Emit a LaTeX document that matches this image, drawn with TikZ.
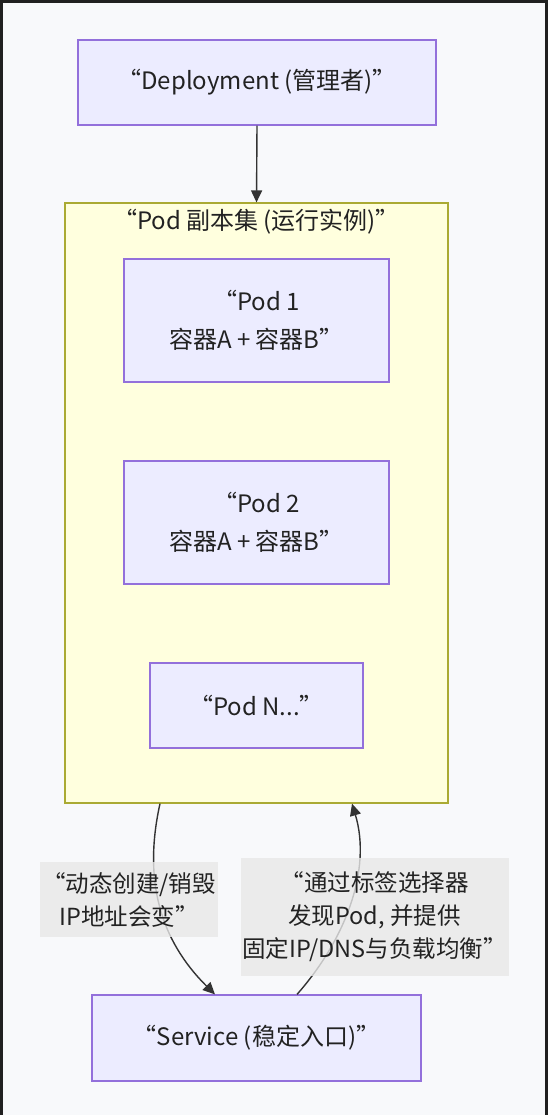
\documentclass[tikz,border=0pt]{standalone}
\usepackage{fontspec}
\setmainfont{Noto Sans CJK SC}
\usepackage{tikz}
\usetikzlibrary{arrows.meta,positioning}

\definecolor{podfill}{HTML}{ECECFF}
\definecolor{podline}{HTML}{9370DB}
\definecolor{setfill}{HTML}{FFFFDE}
\definecolor{setline}{HTML}{AAAA33}
\definecolor{edgeline}{HTML}{333333}
\definecolor{lbltext}{HTML}{222222}
\definecolor{lblfill}{HTML}{E8E8E8}
\definecolor{pagebg}{HTML}{F8F9FB}
\definecolor{framedark}{HTML}{202020}

\begin{document}
\begin{tikzpicture}[
            x=1pt, y=-1pt,
            every node/.style={
                font=\fontsize{24}{38}\selectfont, text=lbltext, align=center
            },
            box/.style={
                draw=podline, fill=podfill, line width=1.2pt,
                inner sep=0pt
            },
            podset/.style={
                draw=setline, fill=setfill, line width=1.2pt,
                inner sep=0pt
            },
            link/.style={
                draw=edgeline, line width=1.4pt,
                -{Triangle[length=12pt,width=11pt]}
            },
            edgelbl/.style={
                fill=lblfill, fill opacity=0.8, text opacity=1,
                inner sep=0pt, font=\fontsize{23.5}{33}\selectfont
            }
        ]
        % page and window frame
        \fill[pagebg] (0,0) rectangle (548,1115);
        \fill[framedark] (0,0) rectangle (548,3);
        \fill[framedark] (0,0) rectangle (3,1115);
        \fill[framedark] (545,0) rectangle (548,1115);
        \useasboundingbox (0,0) rectangle (548,1115);

        \node[box, minimum width=358pt, minimum height=85pt] (deploy) at (257,82.5)
            {“Deployment (管理者)”};

        % replica set with its pods
        \node[podset, minimum width=383pt, minimum height=600pt] (pods) at (256.5,503) {};
        \node (podstitle) at (256.5,222) {“Pod 副本集 (运行实例)”};
        \node[box, minimum width=265pt, minimum height=123pt] (pod1) at (256.5,320.5)
            {“Pod 1\\容器A + 容器B”};
        \node[box, minimum width=265pt, minimum height=123pt] (pod2) at (256.5,522.5)
            {“Pod 2\\容器A + 容器B”};
        \node[box, minimum width=213pt, minimum height=85pt] (podn) at (256.5,705.5)
            {“Pod N...”};

        \node[box, minimum width=329pt, minimum height=86pt] (svc) at (256.5,1038)
            {“Service (稳定入口)”};

        \draw[link] (deploy.south) -- (pods.north);
        \draw[link] ([xshift=-96.5pt]pods.south)
            .. controls (143,880) and (160,940) .. ([xshift=-41.5pt]svc.north);
        \draw[link] ([xshift=40.5pt]svc.north)
            .. controls (345,940) and (372,870) .. ([xshift=95.5pt]pods.south);

        \node[edgelbl, minimum width=178pt, minimum height=75pt] (lbl1) at (129,899.5)
            {“动态创建/销毁\\IP地址会变”};
        \node[edgelbl, minimum width=268pt, minimum height=118pt] (lbl2) at (374.5,916.5)
            {“通过标签选择器\\发现Pod, 并提供\\固定IP/DNS与负载均衡”};
        \end{tikzpicture}
\end{document}
